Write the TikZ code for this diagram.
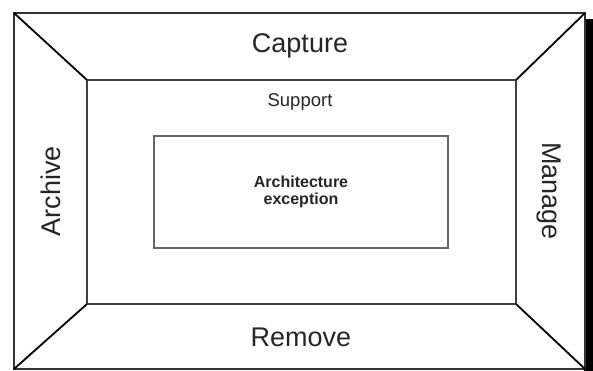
\documentclass[tikz,border=0pt]{standalone}
\usepackage{fontspec}
\setmainfont{Liberation Sans}
\begin{document}
\begin{tikzpicture}[x=1pt,y=-1pt,
  outer/.style={draw=black!80, line width=1.5pt},
  innerline/.style={draw=black!75, line width=1.3pt},
  diag/.style={draw=black, line width=1.8pt},
  centerbox/.style={draw=black!60, line width=1.8pt},
  lbl/.style={inner sep=0pt, anchor=base, text=black!85}]
\useasboundingbox (0,0) rectangle (593,371);
\fill[white] (0,0) rectangle (593,371);
% shadow (right side)
\fill[black] (584,19) rectangle (594,372);
% outer corners
\coordinate (otl) at (14,13);
\coordinate (otr) at (585,13);
\coordinate (obr) at (585,369);
\coordinate (obl) at (14,369);
% inner corners
\coordinate (itl) at (87,80);
\coordinate (itr) at (516,80);
\coordinate (ibr) at (516,304);
\coordinate (ibl) at (87,304);
\fill[white] (otl) rectangle (obr);
\draw[outer] (otl) -- (otr) -- (obr) -- (obl) -- cycle;
\draw[innerline] (itl) -- (itr) -- (ibr) -- (ibl) -- cycle;
\draw[diag] (otl) -- (itl);
\draw[diag] (otr) -- (itr);
\draw[diag] (obr) -- (ibr);
\draw[diag] (obl) -- (ibl);
% center box
\node[centerbox, minimum width=294pt, minimum height=112pt, inner sep=0pt] (box) at (301,192) {};
\node[lbl, font=\fontsize{16}{18}\selectfont\bfseries, align=center, anchor=center] (arch) at (box.center) {Architecture\\[-1pt]exception};
% labels
\node[lbl, font=\fontsize{27}{30}\selectfont] (capture) at (300,53) {Capture};
\node[lbl, font=\fontsize{18.5}{20}\selectfont] (support) at (300,107) {Support};
\node[lbl, font=\fontsize{27}{30}\selectfont] (remove) at (301,346) {Remove};
\node[lbl, font=\fontsize{27}{30}\selectfont, rotate=90] (archive) at (60,191) {Archive};
\node[lbl, font=\fontsize{27}{30}\selectfont, rotate=-90] (manage) at (542,191) {Manage};
\end{tikzpicture}
\end{document}
